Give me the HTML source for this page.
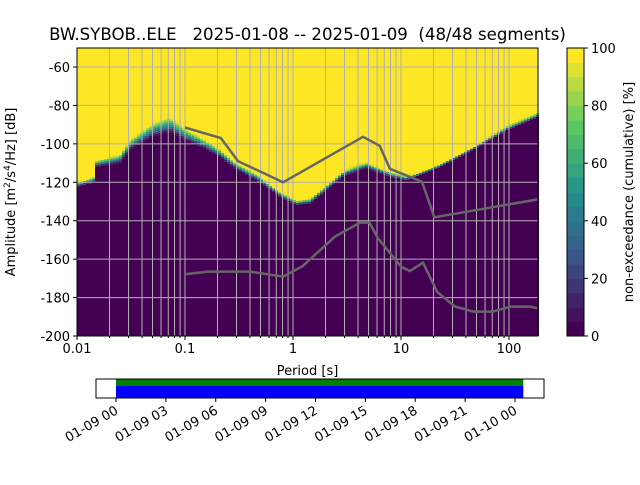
<!DOCTYPE html>
<html><head><meta charset="utf-8"><style>
body{margin:0;background:#fff;font-family:"Liberation Sans","DejaVu Sans",sans-serif;}
svg text{font-family:"DejaVu Sans","Liberation Sans",sans-serif;}
</style></head><body>
<svg id="s" width="640" height="480" viewBox="0 0 640 480" xmlns="http://www.w3.org/2000/svg">
<text x="307.5" y="40" font-size="16.6" text-anchor="middle" style="white-space:pre" xml:space="preserve">BW.SYBOB..ELE   2025-01-08 -- 2025-01-09  (48/48 segments)</text>
<g id="plot"></g>
<g id="cbar"></g>
<g id="tl"></g>
</svg>
<script>
// PSD distribution data (dB at top of 0% region, and transition spread in dB)
const periods = [0.01,0.0143,0.0147,0.025,0.031,0.05,0.0726,0.1,0.147,0.21,0.30,0.46,0.76,1.09,1.44,2.06,2.9,4.2,4.8,7.9,11.3,16.3,22.9,46.7,96,185];
const psdLow  = [-122.3,-120,-111.9,-110,-103,-96.3,-93.7,-98,-102,-106.7,-113.6,-118.8,-127.5,-131.8,-130.8,-124,-117,-113.6,-112.6,-117,-118.8,-115.3,-111.9,-103,-92.8,-85.9];
const spreadP = [0.01,0.015,0.03,0.05,0.07,0.1,0.2,0.46,1,4,10,20,100,185];
const spreadV = [2,3,5,7,8,6,4,3,2,3,2,1,2,2];
// noise models
const nhnmP = [0.1,0.215,0.31,0.81,4.45,6.35,7.9,15.6,20.4,185];
const nhnmV = [-91.5,-97,-109,-120,-96.3,-101,-113,-119.7,-138.2,-128.9];
const nlnmP = [0.1,0.163,0.40,0.81,1.23,2.44,4.18,5.1,6.1,10.0,12.1,16.0,21.6,31.6,46.6,71.0,103,156,185];
const nlnmV = [-167.9,-166.5,-166.5,-169.1,-163.6,-148.3,-141,-141,-149,-163.9,-166.2,-161.8,-177,-184.7,-187.3,-187.3,-184.7,-184.7,-185.6];
const xTicks = [0.01,0.1,1,10,100];
const xTickLabels = ["0.01","0.1","1","10","100"];
const yTicks = [-60,-80,-100,-120,-140,-160,-180,-200];
const cbTicks = [0,20,40,60,80,100];
const timeTicks = ["01-09 00","01-09 03","01-09 06","01-09 09","01-09 12","01-09 15","01-09 18","01-09 21","01-10 00"];
const tickHours = [0,3,6,9,12,15,18,21,24];
const dataStartH = 0, dataEndH = 24.5;

const NS="http://www.w3.org/2000/svg";
const L=77,R=538,T=48,B=336;
const xs=p=>L+(Math.log10(p)+2)*108;
const ys=d=>67+(-60-d)*1.9215;
function mk(tag,at,parent){const e=document.createElementNS(NS,tag);for(const k in at)e.setAttribute(k,at[k]);parent.appendChild(e);return e;}
function interpLog(P,V,p){if(p<=P[0])return V[0];for(let i=1;i<P.length;i++){if(p<=P[i]){const t=(Math.log10(p)-Math.log10(P[i-1]))/(Math.log10(P[i])-Math.log10(P[i-1]));return V[i-1]+t*(V[i]-V[i-1]);}}return V[V.length-1];}
const vstops=[[68,1,84],[59,82,139],[33,145,140],[94,201,98],[253,231,37]];
function viridis(f){f=Math.max(0,Math.min(1,f));const s=f*4,i=Math.min(3,Math.floor(s)),t=s-i;const a=vstops[i],b=vstops[i+1];return `rgb(${a.map((v,k)=>Math.round(v+t*(b[k]-v))).join(',')})`;}
function lev(pct){return viridis(Math.min(19,Math.floor(pct/5))/19);}
const plot=document.getElementById('plot');
mk('rect',{x:L,y:T,width:R-L,height:B-T,fill:lev(100)},plot);
const colW=3;
for(let x=L;x<R;x+=colW){
  const p=Math.pow(10,(x+colW/2-L)/108-2);
  const lo=interpLog(periods,psdLow,p), sp=interpLog(spreadP,spreadV,p);
  const col=mk('rect',{x:x,y:ys(lo),width:colW,height:B-ys(lo),fill:lev(0)},plot);
  
  
  for(let d=lo;d<lo+sp;d+=1){
    const pct=100*(d+0.5-lo)/sp;
    const c=mk('rect',{x:x,y:ys(d+1),width:colW,height:1.95,fill:lev(pct)},plot);
    
    
  }
}
// grid
const gg=mk('g',{stroke:'#b0b0b0','stroke-width':1},plot);


for(let e=-2;e<=2;e++)for(let m=1;m<10;m++){const p=m*Math.pow(10,e);const x=xs(p);if(x>R)break;mk('line',{x1:x,x2:x,y1:T,y2:B},gg);}
yTicks.forEach(v=>{mk('line',{x1:L,x2:R,y1:ys(v),y2:ys(v)},gg);});
// noise models
function line(P,V,name){const pts=P.map((p,i)=>xs(p).toFixed(1)+','+ys(V[i]).toFixed(1)).join(' ');const e=mk('polyline',{points:pts,fill:'none',stroke:'#666','stroke-width':2.5,'stroke-linejoin':'round'},plot);}
line(nhnmP,nhnmV,'nhnm-line');line(nlnmP,nlnmV,'nlnm-line');
mk('rect',{x:L,y:T,width:R-L,height:B-T,fill:'none',stroke:'#000','stroke-width':1},plot);
// ticks
xTicks.forEach((p,i)=>{const x=xs(p);mk('line',{x1:x,x2:x,y1:B,y2:B+4,stroke:'#000'},plot);const t=mk('text',{x:x,y:B+17,'font-size':13,'text-anchor':'middle'},plot);t.textContent=xTickLabels[i];});
for(let e=-2;e<=2;e++)for(let m=2;m<10;m++){const x=xs(m*Math.pow(10,e));if(x>R)break;mk('line',{x1:x,x2:x,y1:B,y2:B+2,stroke:'#000'},plot);}
yTicks.forEach(v=>{const y=ys(v);mk('line',{x1:L-4,x2:L,y1:y,y2:y,stroke:'#000'},plot);const t=mk('text',{x:L-7,y:y+5,'font-size':13,'text-anchor':'end'},plot);t.textContent=v;});
const xl=mk('text',{x:(L+R)/2,y:375,'font-size':13,'text-anchor':'middle'},plot);xl.textContent='Period [s]';

const yl=mk('text',{x:0,y:0,'font-size':13,'text-anchor':'middle',transform:'translate(15,192) rotate(-90)'},plot);
yl.innerHTML='Amplitude [m<tspan dy="-5" font-size="9">2</tspan><tspan dy="5">/s</tspan><tspan dy="-5" font-size="9">4</tspan><tspan dy="5">/Hz] [dB]</tspan>';

// colorbar
const cb=document.getElementById('cbar');const cx=567,cw=17;
for(let i=0;i<20;i++){const y0=B-(i+1)*(B-T)/20;mk('rect',{x:cx,y:y0,width:cw,height:(B-T)/20+0.5,fill:viridis(i/19)},cb);}
mk('rect',{x:cx,y:T,width:cw,height:B-T,fill:'none',stroke:'#000'},cb);
cbTicks.forEach(v=>{const y=B-v/100*(B-T);mk('line',{x1:cx+cw,x2:cx+cw+4,y1:y,y2:y,stroke:'#000'},cb);const t=mk('text',{x:cx+cw+7,y:y+5,'font-size':13},cb);t.textContent=v;});
const cl=mk('text',{x:0,y:0,'font-size':13,'text-anchor':'middle',transform:'translate(633,192) rotate(-90)'},cb);cl.textContent='non-exceedance (cumulative) [%]';

// timeline
const tl=document.getElementById('tl');const tx=h=>116+h*399/24;
mk('rect',{x:tx(dataStartH),y:379,width:tx(dataEndH)-tx(dataStartH),height:7,fill:'#008000'},tl);
mk('rect',{x:tx(dataStartH),y:386,width:tx(dataEndH)-tx(dataStartH),height:12,fill:'#0000ff'},tl);
mk('rect',{x:96,y:379,width:448,height:19,fill:'none',stroke:'#000'},tl);
tickHours.forEach((h,i)=>{const x=tx(h);mk('line',{x1:x,x2:x,y1:398,y2:402,stroke:'#000'},tl);const t=mk('text',{x:0,y:0,'font-size':13,'text-anchor':'end',transform:`translate(${x+3},${413}) rotate(-30)`},tl);t.textContent=timeTicks[i];});
</script>
</body></html>
